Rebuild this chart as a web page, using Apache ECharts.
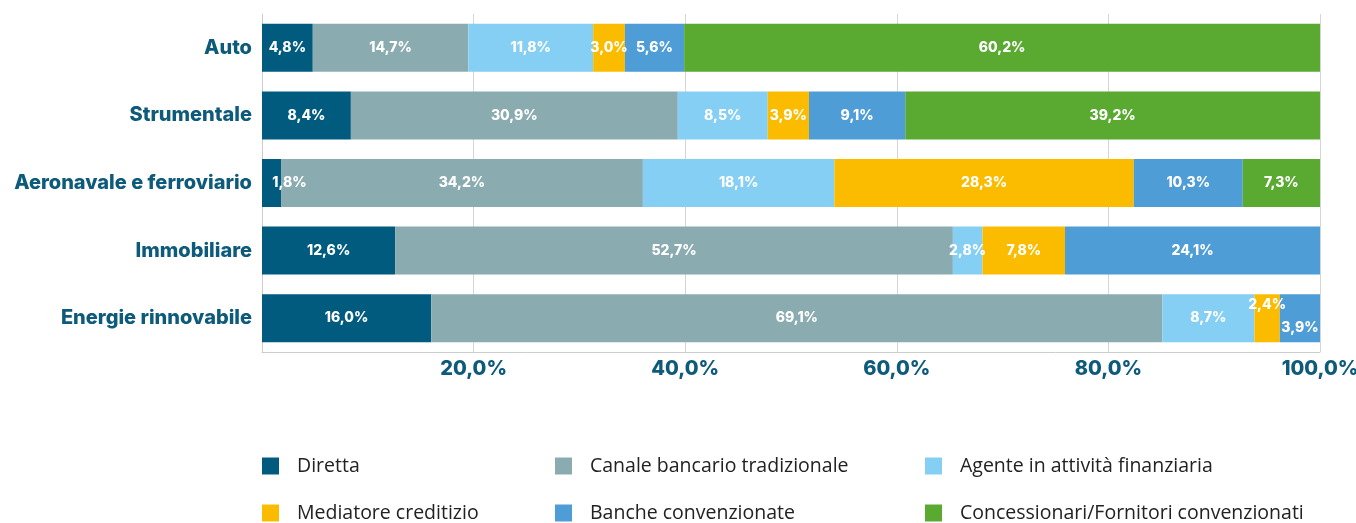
<!DOCTYPE html>
<html><head><meta charset="utf-8">
<script src="https://cdn.jsdelivr.net/npm/echarts@6/dist/echarts.min.js"></script>
<style>html,body{margin:0;padding:0;background:#fff}#c{width:1356px;height:523px}</style>
</head><body><div id="c"></div>
<script>
const categories = ['Auto','Strumentale','Aeronavale e ferroviario','Immobiliare','Energie rinnovabile'];
const seriesNames = ['Diretta','Canale bancario tradizionale','Agente in attività finanziaria','Mediatore creditizio','Banche convenzionate','Concessionari/Fornitori convenzionati'];
const diretta = [4.8, 8.4, 1.8, 12.6, 16.0];
const canale = [14.7, 30.9, 34.2, 52.7, 69.1];
const agente = [11.8, 8.5, 18.1, 2.8, 8.7];
const mediatore = [3.0, 3.9, 28.3, 7.8, 2.4];
const banche = [5.6, 9.1, 10.3, 24.1, 3.9];
const concessionari = [60.2, 39.2, 7.3, 0, 0];
const xTicks = [0, 20, 40, 60, 80, 100];

const colors = ['#005b7f','#8aacb0','#84cff3','#fbbc00','#4e9dd6','#5aaa32'];
const values = [diretta, canale, agente, mediatore, banche, concessionari];
// label nudges for crowded small segments [seriesIndex][catIndex]
const nudges = {'0-2':[18,0], '3-4':[0,-13], '4-4':[0,10]};

const fmt = v => v.toFixed(1).replace('.', ',') + '%';

const series = values.map((arr, si) => ({
  name: seriesNames[si],
  type: 'bar',
  stack: 'total',
  barWidth: 48,
  itemStyle: {color: colors[si]},
  label: {show: true, position: 'inside', color: '#fff', fontFamily: 'Inter', fontWeight: 800, fontSize: 14,
    formatter: p => p.value ? fmt(p.value) : ''},
  data: arr.map((v, ci) => {
    const key = si + '-' + ci;
    const o = {value: v === 0 ? null : v};
    if (nudges[key]) o.label = {offset: nudges[key]};
    return o;
  })
}));

const legendPos = [[262,456],[555,456],[925,456],[262,503],[555,503],[925,503]];
const legends = seriesNames.map((n, i) => ({
  data: [n], left: legendPos[i][0], top: legendPos[i][1], padding: 0,
  itemWidth: 17, itemHeight: 17, icon: 'rect', selectedMode: false,
  textStyle: {fontFamily: 'Open Sans', fontSize: 19.5, color: '#222', padding: [0,0,0,13]}
}));

const chart = echarts.init(document.getElementById('c'), null, {renderer: 'canvas'});
chart.setOption({
  animation: false,
  color: colors,
  grid: {left: 262, right: 36, top: 14, bottom: 171, containLabel: false, outerBoundsMode: 'none'},
  legend: legends,
  xAxis: {
    type: 'value', min: 0, max: 100, interval: 20,
    axisLine: {show: true, lineStyle: {color: '#cccccc', width: 1}},
    axisTick: {show: false},
    splitLine: {show: true, lineStyle: {color: '#d6d6d6', width: 1}},
    axisLabel: {fontFamily: 'Inter', fontWeight: 800, fontSize: 20, color: '#0d5a7b', margin: 7,
      formatter: v => v === 0 ? '' : fmt(v)}
  },
  yAxis: {
    type: 'category', data: categories, inverse: true,
    axisLine: {show: true, lineStyle: {color: '#cccccc', width: 1}},
    axisTick: {show: false},
    axisLabel: {fontFamily: 'Inter', fontWeight: 800, fontSize: 20, color: '#0d5a7b', margin: 10}
  },
  series: series
});
</script></body></html>
